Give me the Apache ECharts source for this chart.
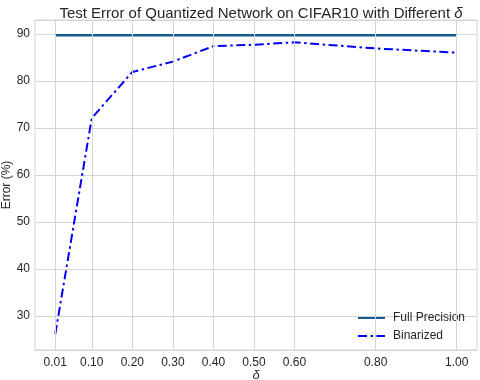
<!DOCTYPE html>
<html>
<head>
<meta charset="utf-8">
<script src="https://cdn.jsdelivr.net/npm/echarts@6/dist/echarts.min.js"></script>
<style>html,body{margin:0;padding:0;background:#fff;}#c{width:480px;height:380px;}</style>
</head>
<body>
<div id="c"></div>
<script>
var deltas = [0.01, 0.1, 0.2, 0.3, 0.4, 0.5, 0.6, 0.8, 1.0];
var binarized = [26.2, 72.1, 81.9, 84.1, 87.4, 87.7, 88.2, 86.9, 86.0];
var fullPrecision = [89.7, 89.7, 89.7, 89.7, 89.7, 89.7, 89.7, 89.7, 89.7];
var xTicks = [0.01, 0.1, 0.2, 0.3, 0.4, 0.5, 0.6, 0.8, 1.0];
var xTickLabels = ['0.01', '0.10', '0.20', '0.30', '0.40', '0.50', '0.60', '0.80', '1.00'];
var doubledLabel = '0.50';

var font = 'Arial, "Liberation Sans", sans-serif';
var textColor = '#262626';
var gridColor = '#d5d5d5';

function pairs(xs, ys) { return xs.map(function (x, i) { return [x, ys[i]]; }); }

var chart = echarts.init(document.getElementById('c'), null, {renderer: 'canvas'});
chart.setOption({
  animation: false,
  backgroundColor: '#ffffff',
  textStyle: {fontFamily: font},
  title: {
    text: 'Test Error of Quantized Network on CIFAR10 with Different {i|δ}',
    left: 256, textAlign: 'center', top: 1,
    textStyle: {
      fontFamily: font, fontSize: 15, fontWeight: 'normal', color: textColor,
      rich: {i: {fontFamily: font, fontSize: 15, fontStyle: 'italic', color: textColor}}
    }
  },
  grid: {left: 35, right: 3, top: 20, bottom: 30, outerBoundsMode: 'none', containLabel: false,
         show: true, borderColor: gridColor, borderWidth: 1, backgroundColor: '#fff'},
  legend: {
    orient: 'vertical', left: 352, top: 307,
    itemWidth: 27, itemHeight: 12, itemGap: 6,
    itemStyle: {opacity: 0},
    data: ['Full Precision', 'Binarized'],
    textStyle: {fontFamily: font, fontSize: 12, color: textColor, padding: [0, 0, 0, 3]}
  },
  xAxis: {
    type: 'value', min: -0.04, max: 1.05, interval: 0.01,
    name: 'δ', nameLocation: 'middle', nameGap: 19, nameMoveOverlap: false,
    nameTextStyle: {fontFamily: font, fontSize: 13, fontStyle: 'italic', color: textColor},
    axisLine: {show: false}, axisTick: {show: false}, splitLine: {show: false},
    axisLabel: {
      margin: 7, fontFamily: font, fontSize: 12, color: textColor, hideOverlap: false,
      formatter: function (v) {
        for (var i = 0; i < xTicks.length; i++) {
          if (Math.abs(v - xTicks[i]) < 1e-6) {
            return xTickLabels[i] === doubledLabel ? '{d|' + xTickLabels[i] + '}' : xTickLabels[i];
          }
        }
        return '';
      },
      rich: {d: {fontFamily: font, fontSize: 12, color: textColor, textShadowColor: 'rgba(38,38,38,0.8)', textShadowOffsetX: 0.6, textShadowBlur: 0}}
    }
  },
  yAxis: {
    type: 'value', min: 22.8, max: 92.95, splitNumber: 7,
    name: 'Error (%)', nameLocation: 'middle', nameGap: 22, nameMoveOverlap: false,
    nameTextStyle: {fontFamily: font, fontSize: 12, color: textColor},
    axisLine: {show: false}, axisTick: {show: false},
    splitLine: {show: true, lineStyle: {color: gridColor, width: 1}},
    axisLabel: {
      margin: 5, fontFamily: font, fontSize: 12, color: textColor,
      formatter: function (v) { return Math.abs(v - Math.round(v / 10) * 10) < 1e-6 ? String(Math.round(v)) : ''; }
    }
  },
  series: [
    {
      name: 'xgrid', type: 'line', data: [], z: 1, silent: true,
      markLine: {
        silent: true, symbol: 'none', label: {show: false}, animation: false,
        lineStyle: {color: gridColor, width: 1, type: 'solid'},
        data: xTicks.map(function (v) { return {xAxis: v}; })
      }
    },
    {
      name: 'Full Precision', type: 'line', z: 3,
      data: pairs(deltas, fullPrecision),
      showSymbol: false, symbol: 'none',
      color: '#175b95',
      lineStyle: {color: '#175b95', width: 2.6}
    },
    {
      name: 'Binarized', type: 'line', z: 4,
      data: pairs(deltas, binarized),
      showSymbol: false, symbol: 'none',
      color: '#0000ff',
      lineStyle: {color: '#0000ff', width: 2, type: [9, 3.5, 2.5, 3.5]}
    }
  ]
});
</script>
</body>
</html>
